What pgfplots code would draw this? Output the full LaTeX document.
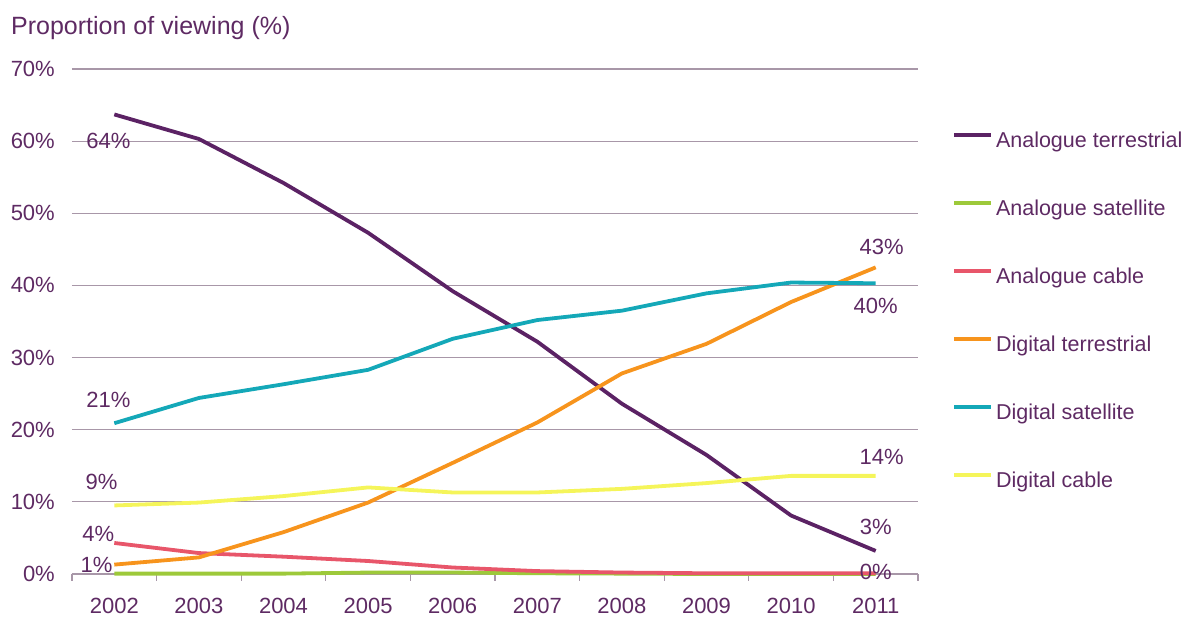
\documentclass[border=0pt]{standalone}
\usepackage{pgfplots}
\pgfplotsset{compat=1.18}
\usepackage{fontspec}
\setmainfont{Liberation Sans}
\definecolor{txt}{HTML}{5E2A63}
\definecolor{gridc}{HTML}{A897A8}
\definecolor{aterr}{HTML}{5B2264}
\definecolor{asat}{HTML}{9DC93A}
\definecolor{acab}{HTML}{E8566A}
\definecolor{dterr}{HTML}{F7941D}
\definecolor{dsat}{HTML}{14A8B8}
\definecolor{dcab}{HTML}{F5F55A}
\begin{document}
\begin{tikzpicture}[x=1pt,y=1pt]
\useasboundingbox (0,0) rectangle (1189,617);
\node[anchor=base west, inner sep=0pt, text=txt, font=\fontsize{25}{29}\selectfont] at (11,582) {Proportion of viewing (\%)};
\begin{axis}[
  at={(72pt,43pt)}, anchor=south west,
  scale only axis, width=846pt, height=505pt,
  xmin=2001.5, xmax=2011.5, ymin=0, ymax=70,
  axis x line*=bottom, axis y line*=left,
  y axis line style={draw=none},
  x axis line style={gridc, line width=1.2pt},
  ymajorgrids, grid style={gridc, line width=1.2pt},
  ytick={0,10,...,70}, ytick style={draw=none},
  yticklabel={\pgfmathprintnumber{\tick}\%},
  yticklabel style={anchor=east, inner sep=0pt, xshift=-17pt, text=txt, font=\fontsize{22}{26}\selectfont},
  xtick={2002,2003,...,2011},
  minor xtick={2001.5,2002.5,...,2011.5},
  tick align=outside, major tick length=0pt, minor tick length=7pt,
  minor x tick style={gridc, line width=1.2pt},
  major x tick style={draw=none},
  xticklabel style={anchor=north, inner sep=0pt, yshift=-24pt, text=txt, font=\fontsize{22}{26}\selectfont},
  /pgf/number format/.cd, 1000 sep={}, assume math mode=true, /pgfplots/.cd,
  clip=false,
  legend cell align=left,
  legend style={at={(1.0402,0.877)}, anchor=north west, draw=none, fill=none, inner sep=0pt,
    row sep=47pt, column sep=3pt, font=\fontsize{21.5}{25}\selectfont, text=txt,
    nodes={inner sep=0pt, text height=16pt, text depth=5pt}},
  legend image code/.code={\draw[#1, line width=3.8pt, line cap=butt] (0pt,7pt) -- (37pt,7pt);},
  every axis plot/.append style={line width=3.8pt, mark=none, line join=round},
]
\addplot[aterr] coordinates {(2002,63.7) (2003,60.3) (2004,54.2) (2005,47.3) (2006,39.2) (2007,32.2) (2008,23.6) (2009,16.5) (2010,8.1) (2011,3.2)};
\addlegendentry{Analogue terrestrial}
\addplot[asat] coordinates {(2002,0.05) (2003,0.05) (2004,0.05) (2005,0.2) (2006,0.2) (2007,0.1) (2008,0.05) (2009,0.0) (2010,0.0) (2011,0.0)};
\addlegendentry{Analogue satellite}
\addplot[acab] coordinates {(2002,4.3) (2003,2.9) (2004,2.4) (2005,1.8) (2006,0.9) (2007,0.4) (2008,0.2) (2009,0.1) (2010,0.1) (2011,0.1)};
\addlegendentry{Analogue cable}
\addplot[dterr] coordinates {(2002,1.3) (2003,2.3) (2004,5.8) (2005,9.9) (2006,15.4) (2007,21.0) (2008,27.8) (2009,31.9) (2010,37.7) (2011,42.5)};
\addlegendentry{Digital terrestrial}
\addplot[dsat] coordinates {(2002,20.9) (2003,24.4) (2004,26.3) (2005,28.3) (2006,32.6) (2007,35.2) (2008,36.5) (2009,38.9) (2010,40.4) (2011,40.3)};
\addlegendentry{Digital satellite}
\addplot[dcab] coordinates {(2002,9.5) (2003,9.9) (2004,10.8) (2005,12.0) (2006,11.3) (2007,11.3) (2008,11.8) (2009,12.6) (2010,13.6) (2011,13.6)};
\addlegendentry{Digital cable}
\begin{scope}[every node/.style={text=txt, font=\fontsize{22}{26}\selectfont, inner sep=0pt}]
\node at (axis cs:2001.93,60.0) {64\%};
\node at (axis cs:2001.93,24.1) {21\%};
\node at (axis cs:2001.85,12.7) {9\%};
\node at (axis cs:2001.81,5.5) {4\%};
\node at (axis cs:2001.79,1.2) {1\%};
\node at (axis cs:2011.07,45.3) {43\%};
\node at (axis cs:2011.0,37.1) {40\%};
\node at (axis cs:2011.07,16.2) {14\%};
\node at (axis cs:2011.0,6.5) {3\%};
\node at (axis cs:2011.0,0.3) {0\%};
\end{scope}
\end{axis}
\end{tikzpicture}
\end{document}
